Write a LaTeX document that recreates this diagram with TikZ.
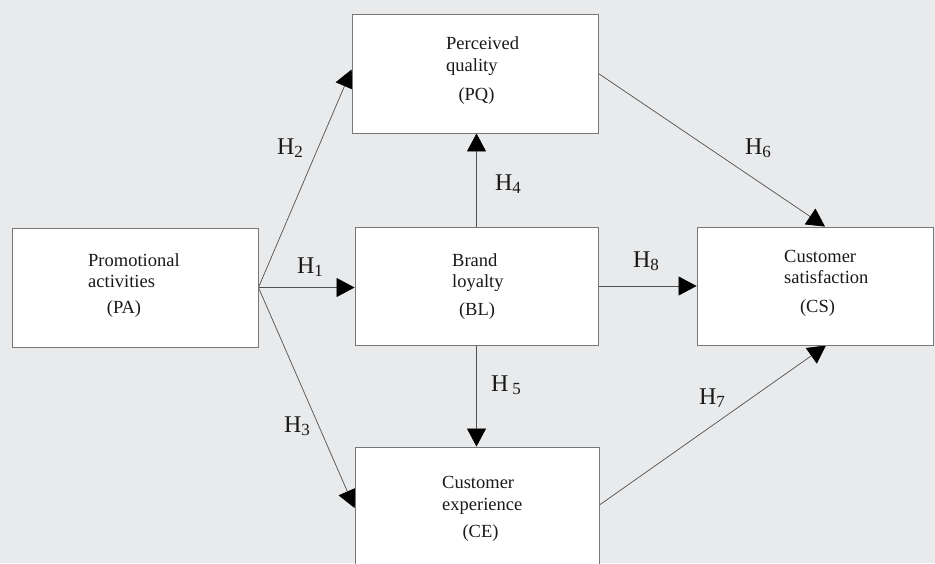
\documentclass[tikz,border=0pt]{standalone}
\usepackage{fontspec}
\setmainfont{Liberation Serif}
\usetikzlibrary{arrows.meta}
\pgfdeclarelayer{back}
\pgfsetlayers{back,main}
\definecolor{bgc}{HTML}{E9EAEC}
\definecolor{linec}{HTML}{505050}
\definecolor{boxc}{HTML}{777777}
\newcommand{\hsub}[1]{\raisebox{-0.28ex}{\fontsize{17}{17}\selectfont #1}}
\begin{document}
\begin{tikzpicture}[x=1pt,y=-1pt,
  box/.style={draw=boxc,line width=0.9pt,fill=white,inner sep=0pt},
  lines/.style={align=left,inner sep=0pt,anchor=west,font=\fontsize{18.5}{21.5}\selectfont,text=black!90},
  abbr/.style={inner sep=0pt,font=\fontsize{18.5}{21.5}\selectfont,text=black!90},
  hyp/.style={inner sep=0pt,font=\fontsize{24}{28}\selectfont,text=black!90},
  conn/.style={draw=linec,line width=0.7pt,-{Triangle[length=18pt,width=19pt,color=black]}}]
\useasboundingbox (0,0) rectangle (935,563);
\begin{pgfonlayer}{back}
\fill[bgc] (0,0) rectangle (935,563);
\end{pgfonlayer}
\clip (0,0) rectangle (935,563);
% boxes
\node[box,minimum width=246pt,minimum height=119pt] (pa) at (135,287.5) {};
\node[box,minimum width=246pt,minimum height=119pt] (pq) at (475,73.5) {};
\node[box,minimum width=243pt,minimum height=118pt] (bl) at (476.5,286) {};
\node[box,minimum width=236pt,minimum height=118pt] (cs) at (815,286) {};
\node[box,minimum width=244pt,minimum height=122pt] (ce) at (477,508) {};
% texts
\node[lines] (pat) at (88,270.5) {Promotional\\activities};
\node[abbr] (paa) at (124,309) {(PA)};
\node[lines] (pqt) at (446,56) {Perceived\\quality};
\node[abbr] (pqa) at (476.5,96) {(PQ)};
\node[lines] (blt) at (452,272.5) {Brand\\loyalty};
\node[abbr] (bla) at (477,311) {(BL)};
\node[lines] (cst) at (784,267) {Customer\\satisfaction};
\node[abbr] (csa) at (817.5,308) {(CS)};
\node[lines] (cet) at (442,495.5) {Customer\\experience};
\node[abbr] (cea) at (480.5,533) {(CE)};
% connectors (behind the boxes)
\begin{pgfonlayer}{back}
\draw[conn] (pa.east) -- ([yshift=4pt]pq.west);
\draw[conn] (pa.east) -- (pa.east -| bl.west);
\draw[conn] (pa.east) -- (ce.west);
\draw[conn] (bl.north) -- (bl.north |- pq.south);
\draw[conn] (bl.south) -- (bl.south |- ce.north);
\draw[conn] (bl.east) -- (cs.west);
\draw[conn] (pq.east) -- ([xshift=10pt]cs.north);
\draw[conn] ([yshift=3pt]ce.east) -- ([xshift=11pt]cs.south);
\end{pgfonlayer}
% hypothesis labels
\node[hyp] (h1) at (310,267) {H\hsub{1}};
\node[hyp] (h2) at (290,148) {H\hsub{2}};
\node[hyp] (h3) at (297,426) {H\hsub{3}};
\node[hyp] (h4) at (508,184) {H\hsub{4}};
\node[hyp] (h5) at (506,385) {H\,\hsub{5}};
\node[hyp] (h6) at (758,148) {H\hsub{6}};
\node[hyp] (h7) at (712,398) {H\hsub{7}};
\node[hyp] (h8) at (646,261) {H\hsub{8}};
\end{tikzpicture}
\end{document}
